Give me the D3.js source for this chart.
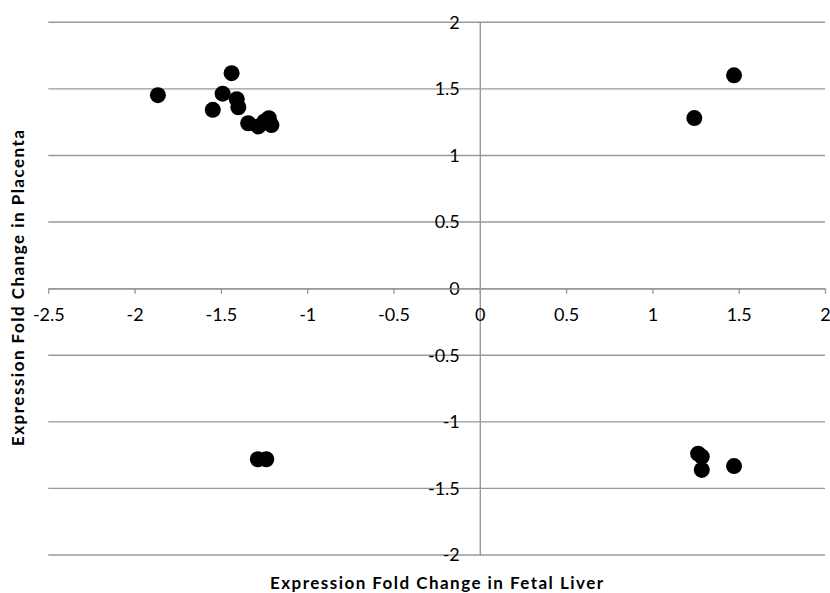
<!DOCTYPE html>
<html lang="en">
<head>
    <meta charset="UTF-8">
    <title>Fold change scatter</title>
    <script src="https://cdn.jsdelivr.net/npm/d3@7"></script>
    <style>
        body { margin: 0; background: #fff; }
        .tick text { font-family: Lato, "Open Sans", sans-serif; font-size: 18px; fill: #000; }
        .title { font-family: Lato, "Open Sans", sans-serif; font-size: 17px; font-weight: bold; fill: #000; }
    </style>
</head>
<body>
<svg width="830" height="593"></svg>
<script>
    // values
    var liver = [-1.865, -1.438, -1.49, -1.408, -1.399, -1.547, -1.342, -1.283, -1.248, -1.222, -1.207,
        1.473, 1.243, -1.286, -1.237, 1.265, 1.286, 1.286, 1.473];
    var placenta = [1.453, 1.618, 1.464, 1.422, 1.362, 1.343, 1.242, 1.218, 1.255, 1.28, 1.228,
        1.602, 1.281, -1.281, -1.281, -1.239, -1.261, -1.361, -1.332];
    var xTicks = [-2.5, -2, -1.5, -1, -0.5, 0, 0.5, 1, 1.5, 2];
    var yTicks = [-2, -1.5, -1, -0.5, 0, 0.5, 1, 1.5, 2];

    var svg = d3.select("svg");
    var gridColor = "#999999";

    var x = d3.scaleLinear().domain([-2.5, 2]).range([48.3, 825]);
    var y = d3.scaleLinear().domain([-2, 2]).range([555, 22.3]);

    // horizontal gridlines
    svg.append("g")
        .selectAll("line")
        .data(yTicks)
        .enter()
        .append("line")
        .attr("x1", x(-2.5))
        .attr("x2", x(2))
        .attr("y1", function (d) { return y(d); })
        .attr("y2", function (d) { return y(d); })
        .attr("stroke", gridColor)
        .attr("stroke-width", 1.4);

    // y axis sits on x = 0
    var yAxis = svg.append("g")
        .attr("transform", "translate(" + x(0) + ",0)")
        .call(d3.axisLeft(y).tickValues(yTicks).tickSize(0).tickPadding(20)
            .tickFormat(function (d) { return String(d); }));
    yAxis.select(".domain").attr("stroke", gridColor).attr("stroke-width", 1.4);

    // x axis sits on y = 0
    var xAxis = svg.append("g")
        .attr("transform", "translate(0," + y(0) + ")")
        .call(d3.axisBottom(x).tickValues(xTicks).tickSizeInner(5).tickSizeOuter(0)
            .tickFormat(function (d) { return String(d); }));
    xAxis.select(".domain").attr("stroke", gridColor).attr("stroke-width", 1.4);
    xAxis.selectAll(".tick line").attr("stroke", gridColor).attr("stroke-width", 1.4);
    xAxis.selectAll(".tick text").attr("y", 20).attr("dy", "0.71em");

    // points
    svg.append("g")
        .selectAll("circle")
        .data(liver)
        .enter()
        .append("circle")
        .attr("cx", function (d) { return x(d); })
        .attr("cy", function (d, i) { return y(placenta[i]); })
        .attr("r", 8)
        .attr("fill", "#000");

    svg.append("text")
        .attr("class", "title")
        .attr("x", 436.5)
        .attr("y", 589)
        .attr("text-anchor", "middle")
        .attr("textLength", 333)
        .text("Expression Fold Change in Fetal Liver");

    svg.append("text")
        .attr("class", "title")
        .attr("transform", "translate(24,288) rotate(-90)")
        .attr("text-anchor", "middle")
        .attr("textLength", 316)
        .text("Expression Fold Change in Placenta");
</script>
</body>
</html>
